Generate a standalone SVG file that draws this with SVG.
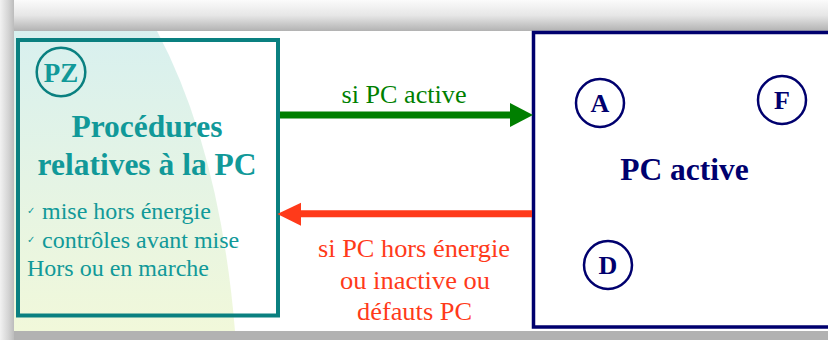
<svg xmlns="http://www.w3.org/2000/svg" width="828" height="340" viewBox="0 0 828 340">
<defs>
<linearGradient id="gTop" x1="0" y1="0" x2="0" y2="1">
<stop offset="0" stop-color="#fbfbfb"/>
<stop offset="0.5" stop-color="#e6e6e6"/>
<stop offset="1" stop-color="#b2b2b2"/>
</linearGradient>
<linearGradient id="gLeft" x1="0" y1="0" x2="1" y2="0">
<stop offset="0" stop-color="#f2f2f2"/>
<stop offset="0.6" stop-color="#d4d4d4"/>
<stop offset="1" stop-color="#bcbcbc"/>
</linearGradient>
<linearGradient id="gBg" x1="0" y1="0" x2="0" y2="1">
<stop offset="0" stop-color="#d8f0ef"/>
<stop offset="1" stop-color="#f1f8da"/>
</linearGradient>
<style>
.serif{font-family:"Liberation Serif","Times New Roman",serif}
.teal{fill:#119999}
.navy{fill:#00006e}
.ttl{font-size:31.5px;font-weight:bold}
.body{font-size:24px}
.arr{font-size:25px}
.lbl{font-size:26px;font-weight:bold}
.pz{font-size:27px;font-weight:bold}
.circT{fill:none;stroke:#0a8080;stroke-width:2.5}
.circN{fill:none;stroke:#00006e;stroke-width:2.5}
.red{fill:#ff3a1a}
.green{fill:#007f00}
.chk{font-family:"DejaVu Sans",sans-serif;font-size:10px;font-weight:bold;fill:#119999}
</style>
</defs>
<rect x="0" y="0" width="828" height="340" fill="#ffffff"/>
<rect x="0" y="0" width="828" height="31" fill="url(#gTop)"/>
<rect x="0" y="0" width="14" height="340" fill="url(#gLeft)"/>
<rect x="14" y="331" width="814" height="9" fill="#b2b2b2"/>
<path d="M14,31 L157,31 Q220,150 235,331 L14,331 Z" fill="url(#gBg)"/>

<g id="pz-box">
<rect x="18" y="40" width="260" height="275.5" fill="none" stroke="#0a8080" stroke-width="4"/>
<circle cx="61" cy="72" r="24.3" class="circT"/>
<text x="61" y="82" text-anchor="middle" class="serif teal pz">PZ</text>
<text x="147" y="137" text-anchor="middle" class="serif teal ttl">Procédures</text>
<text x="147" y="175" text-anchor="middle" class="serif teal ttl">relatives à la PC</text>
<text x="27" y="214" class="chk">✓</text>
<text x="42" y="219" class="serif teal body">mise hors énergie</text>
<text x="27" y="243" class="chk">✓</text>
<text x="42" y="248" class="serif teal body">contrôles avant mise</text>
<text x="27" y="276" class="serif teal body">Hors ou en marche</text>
</g>

<g id="pc-box">
<rect x="533.5" y="32.5" width="320" height="294.5" fill="none" stroke="#00006e" stroke-width="3.5"/>
<circle cx="600" cy="103" r="24" class="circN"/>
<text x="600" y="112" text-anchor="middle" class="serif navy lbl">A</text>
<circle cx="782" cy="100" r="24" class="circN"/>
<text x="782" y="109" text-anchor="middle" class="serif navy lbl">F</text>
<circle cx="608" cy="265" r="24" class="circN"/>
<text x="608" y="274" text-anchor="middle" class="serif navy lbl">D</text>
<text x="684.5" y="180" text-anchor="middle" class="serif navy ttl">PC active</text>
</g>

<g id="connectors">
<g id="to-active">
<line x1="280" y1="115" x2="512" y2="115" stroke="#007f00" stroke-width="7"/>
<polygon points="510,103 533,115 510,127" class="green"/>
<text x="404" y="103" text-anchor="middle" textLength="125" lengthAdjust="spacingAndGlyphs" class="serif green arr">si PC active</text>
</g>
<g id="to-pz">
<line x1="532" y1="213.7" x2="299" y2="213.7" stroke="#ff3a1a" stroke-width="7"/>
<polygon points="301,202.7 277.3,214 301,225.7" class="red"/>
<text x="414" y="257" text-anchor="middle" textLength="192" lengthAdjust="spacingAndGlyphs" class="serif red arr">si PC hors énergie</text>
<text x="415" y="289" text-anchor="middle" textLength="150" lengthAdjust="spacingAndGlyphs" class="serif red arr">ou inactive ou</text>
<text x="414.5" y="320" text-anchor="middle" textLength="115" lengthAdjust="spacingAndGlyphs" class="serif red arr">défauts PC</text>
</g>
</g>
</svg>
